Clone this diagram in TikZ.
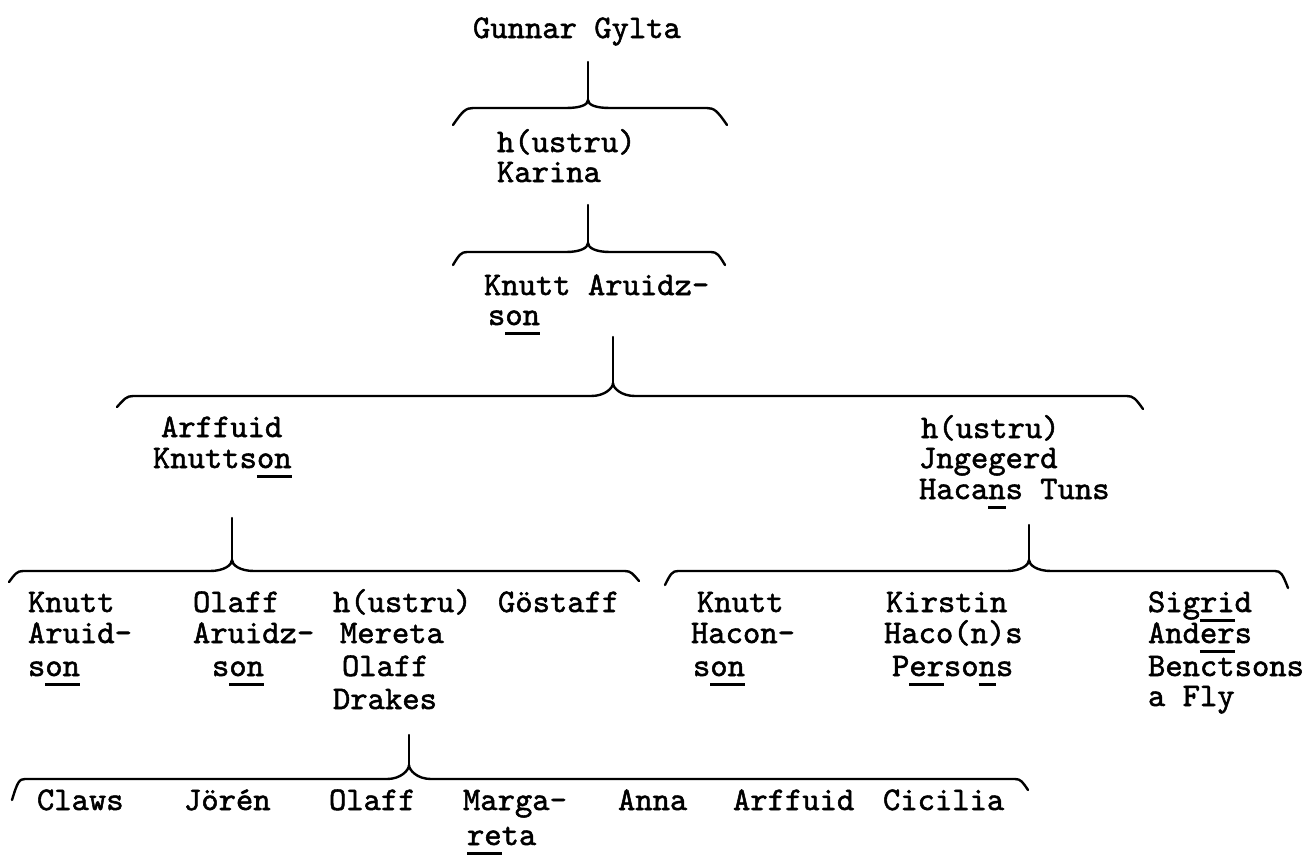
\documentclass[tikz,border=0pt]{standalone}
\usepackage{fontspec}
\newfontfamily\tw{lmmono10-regular.otf}[FakeBold=1.6]
\newsavebox\ulbox
\newcommand\ul[1]{\sbox\ulbox{#1}\rlap{\rule[-9.5pt]{\wd\ulbox}{2.4pt}}\usebox\ulbox}
\tikzset{
  person/.style={anchor=base west, inner sep=0pt, outer sep=0pt, text height=20pt, text depth=9.5pt,
                 font=\tw\fontsize{33}{33}\selectfont},
  brace/.style={line width=2.4pt, line cap=round, line join=round},
}
% #1 cx, #2 stem top, #3 cusp, #4 horizontal, #5 left tip x, #6 left tip y, #7 right tip x, #8 right tip y, #9 corner offset
\newcommand\famBrace[9]{%
  \draw[brace] (#1,#2) -- (#1,#3);
  \draw[brace] (#5,#6) .. controls ({#5+#9*0.6},{#4+3}) and ({#5+#9*0.8},#4) .. ({#5+#9+4},#4)
    -- ({#1-22},#4) .. controls ({#1-8},#4) and (#1,{#3+5}) .. (#1,#3)
    .. controls (#1,{#3+5}) and ({#1+8},#4) .. ({#1+22},#4)
    -- ({#7-#9-4},#4) .. controls ({#7-#9*0.8},#4) and ({#7-#9*0.6},{#4+3}) .. (#7,#8);
}
\begin{document}
\begin{tikzpicture}[x=1pt,y=-1pt]
\useasboundingbox (0,0) rectangle (1313,860);
% generation 1
\node[person] (gunnar) at (473,38) {Gunnar Gylta};
\famBrace{588}{62}{100}{108}{453}{125}{727}{125}{16}
\node[person] (h1a) at (497,152) {h(ustru)};
\node[person] (h1b) at (497,182) {Karina};
\famBrace{588}{205}{243}{252}{453}{265}{725}{265}{10}
\node[person] (k1a) at (484,295) {Knutt Aruidz-};
\node[person] (k1b) at (488,325) {s\ul{on}};
\famBrace{613}{337}{383}{396}{117}{407}{1143}{409}{12}
% generation 3
\node[person] (arf1) at (161,437) {Arffuid};
\node[person] (arf2) at (153,468) {Knutts\ul{on}};
\node[person] (ing1) at (921,438) {h(ustru)};
\node[person] (ing2) at (919,468) {Jngegerd};
\node[person] (ing3) at (919,499) {Haca\ul{n}s Tuns};
\famBrace{232}{518}{560}{571}{9}{582}{639}{581}{10}
\famBrace{1029}{525}{560}{571}{665}{585}{1288}{588}{9}
% generation 4, left
\node[person] (ka1) at (28,612) {Knutt};
\node[person] (ka2) at (28,643) {Aruid-};
\node[person] (ka3) at (28,676) {s\ul{on}};
\node[person] (oa1) at (193,612) {Olaff};
\node[person] (oa2) at (193,643) {Aruidz-};
\node[person] (oa3) at (212,676) {s\ul{on}};
\node[person] (me1) at (333,612) {h(ustru)};
\node[person] (me2) at (340,643) {Mereta};
\node[person] (me3) at (342,676) {Olaff};
\node[person] (me4) at (333,709) {Drakes};
\node[person] (gos) at (498,612) {Göstaff};
% generation 4, right
\node[person] (kh1) at (697,612) {Knutt};
\node[person] (kh2) at (691,643) {Hacon-};
\node[person] (kh3) at (693,676) {s\ul{on}};
\node[person] (ki1) at (886,612) {Kirstin};
\node[person] (ki2) at (884,643) {Haco(n)s};
\node[person] (ki3) at (892,676) {P\ul{er}so\ul{n}s};
\node[person] (si1) at (1148,612) {Sig\ul{ri}d};
\node[person] (si2) at (1148,643) {And\ul{er}s};
\node[person] (si3) at (1148,676) {Benctsons};
\node[person] (si4) at (1148,706) {a Fly};
% generation 5
\famBrace{409}{735}{765}{779}{12}{800}{1028}{790}{9}
\node[person] (c1) at (37,810) {Claws};
\node[person] (c2) at (184,810) {Jörén};
\node[person] (c3) at (329,810) {Olaff};
\node[person] (c4) at (463,810) {Marga-};
\node[person] (c4b) at (467,845) {\ul{re}ta};
\node[person] (c5) at (618,810) {Anna};
\node[person] (c6) at (733,810) {Arffuid};
\node[person] (c7) at (883,810) {Cicilia};
\end{tikzpicture}
\end{document}
